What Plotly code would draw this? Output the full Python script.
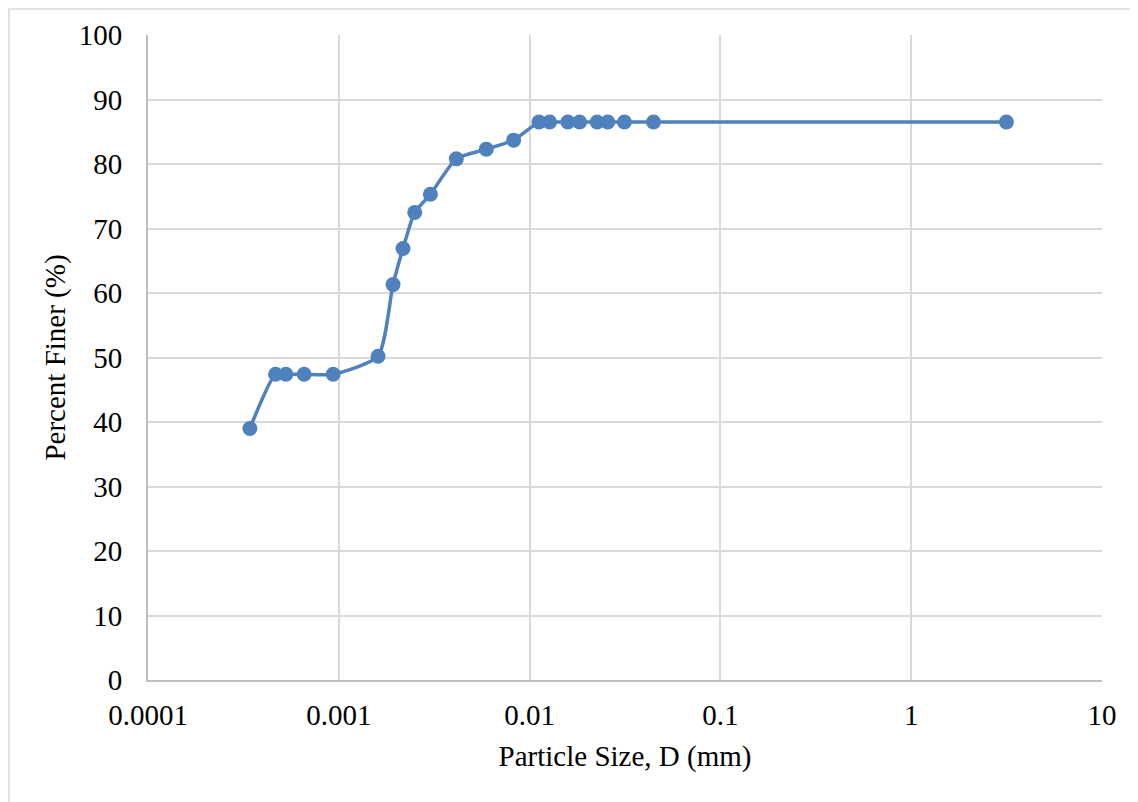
import plotly.graph_objects as go

particle_size_mm = [3.42e-4, 4.66e-4, 5.28e-4, 6.58e-4, 9.34e-4, 1.606e-3, 1.924e-3,
                    2.171e-3, 2.50e-3, 3.02e-3, 4.13e-3, 5.93e-3, 8.25e-3, 0.01119,
                    0.01273, 0.01587, 0.01828, 0.02259, 0.0257, 0.0314, 0.0446, 3.155]
percent_finer = [39.0, 47.4, 47.4, 47.4, 47.4, 50.2, 61.3, 66.9, 72.5, 75.3, 80.8,
                 82.3, 83.7, 86.5, 86.5, 86.5, 86.5, 86.5, 86.5, 86.5, 86.5, 86.5]
x_tick_vals = [0.0001, 0.001, 0.01, 0.1, 1, 10]
x_tick_text = ["0.0001", "0.001", "0.01", "0.1", "1", "10"]
y_tick_vals = [0, 10, 20, 30, 40, 50, 60, 70, 80, 90, 100]

BLUE = "#4F81BD"
FONT = "Liberation Serif"
FS = 29

fig = go.Figure()
fig.add_trace(go.Scatter(
    x=particle_size_mm, y=percent_finer, mode="lines+markers",
    line=dict(color=BLUE, width=3.5, shape="spline", smoothing=0.6),
    marker=dict(color=BLUE, size=15),
    showlegend=False,
))

# page has an 8px body margin; compensate so plot area lands at x 148-1102, y 35-680
OFF = 8
W, H = 1138 - OFF, 802 - OFF
L, R, T, B = 148 - OFF, 36, 35 - OFF, 122
pw, ph = W - L - R, H - T - B

fig.update_layout(
    width=W, height=H,
    margin=dict(l=L, r=R, t=T, b=B),
    paper_bgcolor="white", plot_bgcolor="white",
    font=dict(family=FONT, size=FS, color="black"),
    xaxis=dict(
        type="log", range=[-4, 1],
        tickvals=x_tick_vals, ticktext=x_tick_text,
        showgrid=True, gridcolor="#D9D9D9", gridwidth=2,
        showline=True, linecolor="#BFBFBF", linewidth=2,
        ticks="", ticklabelstandoff=8,
        zeroline=False,
        title=dict(text="Particle Size, D (mm)", font=dict(family=FONT, size=FS), standoff=16),
    ),
    yaxis=dict(
        range=[0, 100], tickvals=y_tick_vals,
        showgrid=True, gridcolor="#D9D9D9", gridwidth=2,
        showline=True, linecolor="#BFBFBF", linewidth=2,
        ticks="", ticklabelstandoff=18,
        zeroline=False,
        title=dict(text="Percent Finer (%)", font=dict(family=FONT, size=FS), standoff=5),
    ),
    shapes=[dict(
        type="rect", xref="paper", yref="paper",
        x0=(1.0 - L) / pw, x1=(W + 20 - L) / pw,
        y0=-(200) / ph, y1=(ph + T - 1.0) / ph,
        line=dict(color="#D9D9D9", width=1.5), fillcolor="rgba(0,0,0,0)", layer="below",
    )],
)

fig.write_html("out.html")
